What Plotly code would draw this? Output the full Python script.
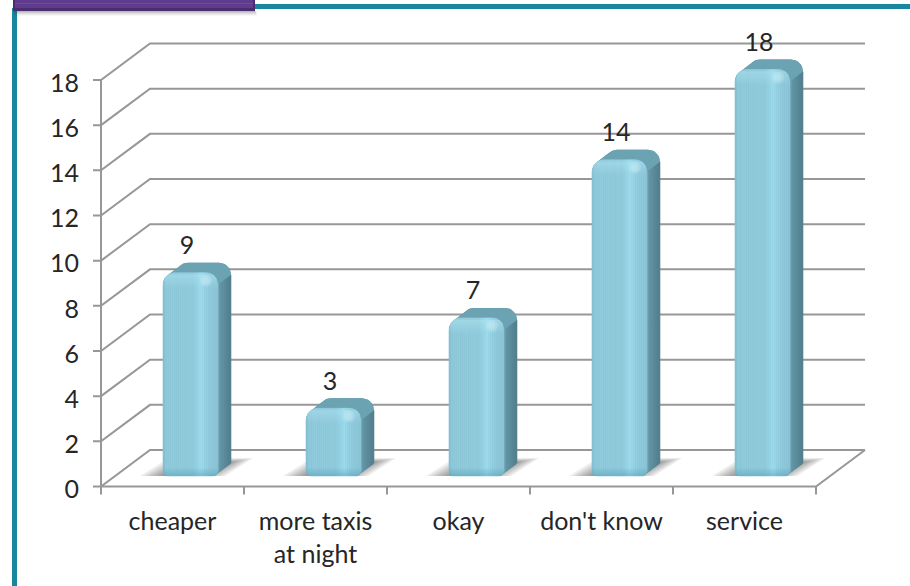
import math
import plotly.graph_objects as go

# ---- data ----
categories = ["cheaper", "more taxis<br>at night", "okay", "don't know", "service"]
values = [9, 3, 7, 14, 18]
y_ticks = [0, 2, 4, 6, 8, 10, 12, 14, 16, 18]

# ---- geometry (pixels) ----
W, H = 910, 586
L, R, T, B = 90, 872, 20, 498        # plot area (slightly larger than the drawing)
ORIGIN_X, ORIGIN_Y = 101, 486.5      # front-left floor corner
PXX = 143.0                          # px per category
PXY = 406.5 / 18                     # px per value unit
DEPTH_X, DEPTH_Y = 49, 36.5          # wall depth
TICK = 8
BAR_W, SIDE_X, SIDE_Y = 55, 13, 10
BAR_DX, BAR_UP = -9.5, 10.5          # bar front-left relative to category centre / floor
RT, RB = 12, 5                       # corner radii
GRID = "#979797"
FONT = "Lato, 'Open Sans', sans-serif"
TXT = "#262626"
FS = 25

x0 = -0.5
x_end = x0 + len(categories)
range_x = [x0 - (ORIGIN_X - L) / PXX, x0 + (R - ORIGIN_X) / PXX]
range_y = [-(B - ORIGIN_Y) / PXY, (ORIGIN_Y - T) / PXY]
dx = DEPTH_X / PXX
dy = DEPTH_Y / PXY
tx = TICK / PXX
ty = TICK / PXY

fig = go.Figure()


def hexrgb(h):
    return tuple(int(h[i:i + 2], 16) for i in (1, 3, 5))


def ramp(stops, t):
    for (a, ca), (b, cb) in zip(stops, stops[1:]):
        if a <= t <= b:
            f = (t - a) / (b - a) if b > a else 0
            ra, rb = hexrgb(ca), hexrgb(cb)
            return "rgb(%d,%d,%d)" % tuple(round(u + (v - u) * f) for u, v in zip(ra, rb))
    return stops[-1][1]


def add_poly(polys, color, line=None):
    xs, ys = [], []
    for poly in polys:
        xs += [p[0] for p in poly] + [poly[0][0], None]
        ys += [p[1] for p in poly] + [poly[0][1], None]
    fig.add_trace(go.Scatter(
        x=xs, y=ys, mode="lines", fill="toself", fillcolor=color,
        line=dict(color=line or "rgba(0,0,0,0)", width=0.6 if line else 0),
        hoverinfo="skip", showlegend=False))


def to_data(i, v, pts):
    """pts are pixel offsets from the bar's front-left: px right, px up, relative to top if flagged."""
    ox = i + BAR_DX / PXX
    oy = BAR_UP / PXY
    return [(ox + a / PXX, oy + b / PXY + (v if top else 0)) for a, b, top in pts]


def arc(cx, cy, r, a0, a1, top, n=8):
    return [(cx + r * math.cos(math.radians(a0 + (a1 - a0) * k / n)),
             cy + r * math.sin(math.radians(a0 + (a1 - a0) * k / n)), top) for k in range(n + 1)]


# ---- walls, floor, axis ticks ----
gx, gy = [], []
for t in y_ticks:
    gx += [x0 - tx, x0, x0 + dx, x_end + dx, None]
    gy += [t, t, t + dy, t + dy, None]
gx += [x0, x0, None, x0, x_end, x_end + dx, None]
gy += [0, y_ticks[-1], None, 0, 0, dy, None]
for i in range(len(categories) + 1):
    gx += [x0 + i, x0 + i, None]
    gy += [0, -ty, None]
fig.add_trace(go.Scatter(x=gx, y=gy, mode="lines", line=dict(color=GRID, width=2),
                         hoverinfo="skip", showlegend=False))

# ---- floor shadows ----
N_SHADOW = 12
for k in range(N_SHADOW):
    inset = k * 3.4
    polys = []
    for i, v in enumerate(values):
        polys.append(to_data(i, v, [(-23 + inset, 0, False), (6 + inset, 18 - k * 0.7, False),
                                    (90 - inset, 18 - k * 0.7, False), (62 - inset, 0, False)]))
    add_poly(polys, "rgba(60,60,60,0.09)")

# ---- bar hull (side colour) and top face ----
hulls, tops = [], []
for i, v in enumerate(values):
    hull = arc(RT, -RT, RT, 180, 135, True, 5)
    hull += arc(SIDE_X + RT, SIDE_Y - RT, RT, 135, 90, True, 5)
    hull += arc(SIDE_X + BAR_W - RT, SIDE_Y - RT, RT, 90, 0, True)
    hull += arc(SIDE_X + BAR_W - RB, SIDE_Y + RB, RB, 0, -60, False, 4)
    hull += arc(BAR_W - RB, RB, RB, -60, -90, False, 3)
    hull += [(RB, 0, False), (0, RB, False)]
    hulls.append(to_data(i, v, hull))

    top = arc(RT, -RT, RT, 180, 135, True, 5)
    top += arc(SIDE_X + RT, SIDE_Y - RT, RT, 135, 90, True, 5)
    top += arc(SIDE_X + BAR_W - RT, SIDE_Y - RT, RT, 90, 0, True)
    top += [(BAR_W, -RT, True)]
    tops.append(to_data(i, v, top))
add_poly(hulls, "#5A8B9B")

# side face shading strips
SIDE_STOPS = [(0, "#6FA3B2"), (0.3, "#5F92A2"), (1, "#527E8D")]
N_SIDE = 6
for k in range(N_SIDE):
    a0, a1 = k / N_SIDE, (k + 1) / N_SIDE
    polys = []
    for i, v in enumerate(values):
        xa, xb = BAR_W + SIDE_X * a0, BAR_W + SIDE_X * a1
        ya, yb = SIDE_Y * a0, SIDE_Y * a1
        polys.append(to_data(i, v, [(xa, ya + 3, False), (xb, yb + 3, False),
                                    (xb, yb - RT, True), (xa, ya - RT, True)]))
    c = ramp(SIDE_STOPS, (a0 + a1) / 2)
    add_poly(polys, c, c)

add_poly(tops, "#6CA3B3")

# ---- front face: vertical strips carrying the gradient ----
FRONT_STOPS = [(0, "#7CBBCD"), (0.04, "#8CC8DA"), (0.14, "#90CBDC"), (0.55, "#90CBDD"),
               (0.70, "#9DDDEE"), (0.82, "#92CDDF"), (1, "#8AC4D6")]
N_FRONT = 28


def top_drop(t):
    e = min(t, BAR_W - t)
    return RT - math.sqrt(max(RT ** 2 - (RT - e) ** 2, 0)) if e < RT else 0


def bot_rise(t):
    e = min(t, BAR_W - t)
    return RB - math.sqrt(max(RB ** 2 - (RB - e) ** 2, 0)) if e < RB else 0


for k in range(N_FRONT):
    t0, t1 = BAR_W * k / N_FRONT, BAR_W * (k + 1) / N_FRONT
    polys = []
    for i, v in enumerate(values):
        polys.append(to_data(i, v, [(t0, bot_rise(t0), False), (t1, bot_rise(t1), False),
                                    (t1, -top_drop(t1), True), (t0, -top_drop(t0), True)]))
    c = ramp(FRONT_STOPS, (t0 + t1) / 2 / BAR_W)
    add_poly(polys, c, c)

# lighter rim at the top of the front face
RIM = 16
for k in range(RIM):
    polys = []
    for i, v in enumerate(values):
        inset = RT - math.sqrt(max(RT ** 2 - (RT - min(k + 1, RT)) ** 2, 0))
        polys.append(to_data(i, v, [(inset, -k, True), (BAR_W - inset, -k, True),
                                    (BAR_W - inset, -k - 1, True), (inset, -k - 1, True)]))
    add_poly(polys, "rgba(190,238,250,%.3f)" % (0.42 * (1 - k / RIM) if k > 1 else 0.15))

# darker teal strip at the foot
FOOT = 8
for k in range(FOOT):
    polys = []
    for i, v in enumerate(values):
        inset = RB - math.sqrt(max(RB ** 2 - (RB - min(k + 1, RB)) ** 2, 0))
        polys.append(to_data(i, v, [(inset, k, False), (BAR_W - inset, k, False),
                                    (BAR_W - inset, k + 1, False), (inset, k + 1, False)]))
    add_poly(polys, "rgba(70,150,170,%.3f)" % (0.4 * (1 - k / FOOT)))

# specular spot
for size in (12, 7):
    fig.add_trace(go.Scatter(
        x=[i + (BAR_DX + BAR_W * 0.78) / PXX for i in range(len(values))],
        y=[v + (BAR_UP - 8) / PXY for v in values],
        mode="markers", marker=dict(size=size, color="rgba(225,248,252,0.22)", line=dict(width=0)),
        hoverinfo="skip", showlegend=False))

# ---- value labels ----
fig.add_trace(go.Scatter(
    x=[i + (BAR_DX + 24) / PXX for i in range(len(values))],
    y=[v + (BAR_UP + 25) / PXY for v in values],
    mode="text", text=[str(v) for v in values], textposition="middle center",
    textfont=dict(family=FONT, size=FS, color=TXT),
    hoverinfo="skip", showlegend=False))


# ---- page furniture ----
def paper_rect(xa, ya, xb, yb, color):
    return dict(type="rect", xref="paper", yref="paper", layer="above",
                x0=(xa - L) / (R - L), x1=(xb - L) / (R - L),
                y0=(B - ya) / (B - T), y1=(B - yb) / (B - T),
                fillcolor=color, line=dict(width=0))


shapes = [
    paper_rect(254, 4, W, 9, "#17869E"),
    paper_rect(12, 8, 17, H, "#17869E"),
]
for k in range(5):
    shapes.append(paper_rect(14, 11, 255 + k * 0.5, 12 + k, "rgba(60,60,60,%.2f)" % (0.12 - k * 0.02)))
shapes += [
    paper_rect(13, 0, 255, 11, "#4A2C70"),
    paper_rect(15, 0, 253, 8, "#5F3C8E"),
    paper_rect(15, 3, 253, 4, "#6E4C9C"),
]

fig.update_layout(
    width=W, height=H, autosize=False,
    margin=dict(l=L, r=W - R, t=T, b=H - B),
    paper_bgcolor="white", plot_bgcolor="white",
    showlegend=False, shapes=shapes,
    font=dict(family=FONT, size=FS, color=TXT),
    xaxis=dict(
        range=range_x, showgrid=False, zeroline=False, showline=False,
        tickmode="array", tickvals=list(range(len(categories))), ticktext=categories,
        ticks="", ticklabelstandoff=6,
        tickfont=dict(family=FONT, size=FS, color=TXT),
    ),
    yaxis=dict(
        range=range_y, showgrid=False, zeroline=False, showline=False,
        tickmode="array", tickvals=y_ticks, ticktext=[str(t) for t in y_ticks],
        ticks="", ticklabelstandoff=10, ticklabelshift=3,
        tickfont=dict(family=FONT, size=FS, color=TXT),
    ),
)

fig.write_html("out.html", config=dict(displayModeBar=False),
               post_script="document.body.style.margin='0';document.documentElement.style.overflow='hidden';")
